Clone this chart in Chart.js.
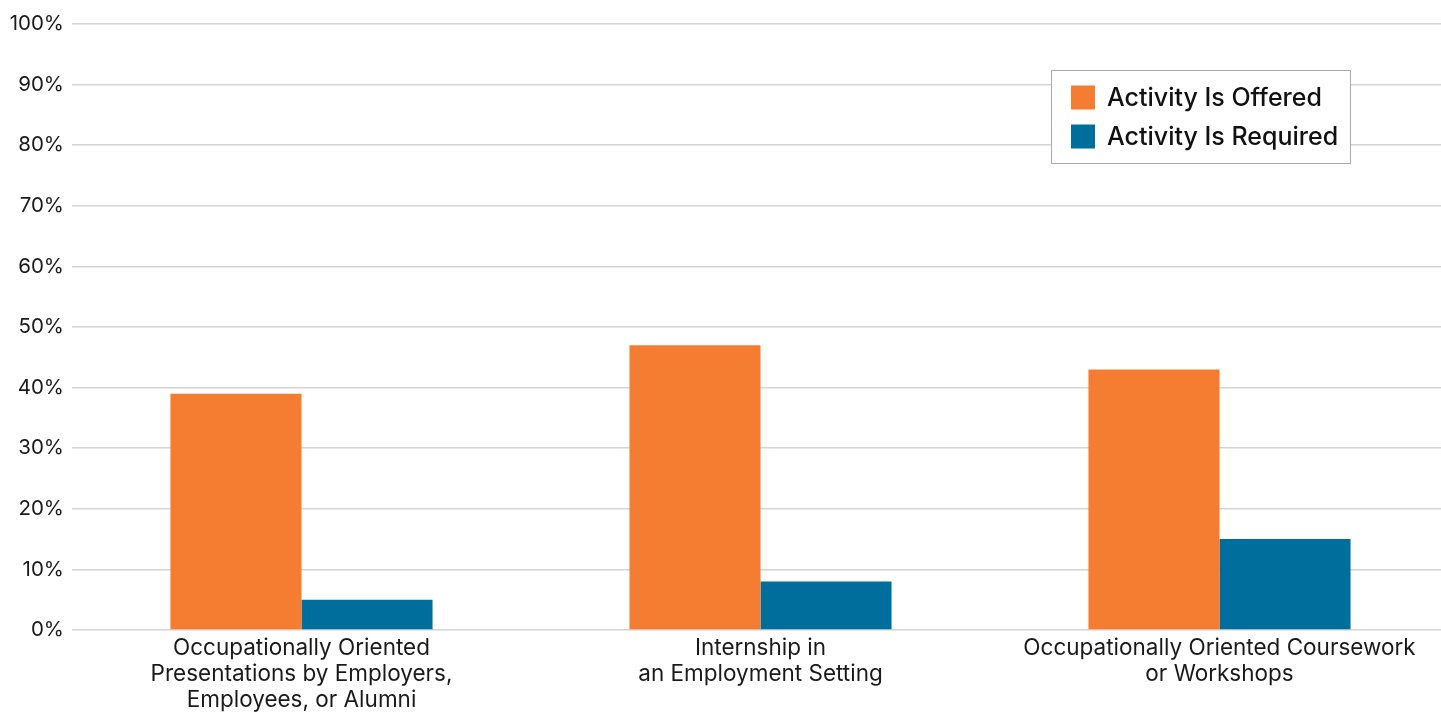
<!DOCTYPE html>
<html>
<head>
<meta charset="utf-8">
<script src="https://cdn.jsdelivr.net/npm/chart.js@4"></script>
<style>
html,body{margin:0;padding:0;background:#fff;overflow:hidden;}
#wrap{position:relative;width:1449px;height:713px;}
</style>
</head>
<body>
<div id="wrap"><canvas id="c"></canvas></div>
<script>
const categories = [
  ["Occupationally Oriented", "Presentations by Employers,", "Employees, or Alumni"],
  ["Internship in", "an Employment Setting"],
  ["Occupationally Oriented Coursework", "or Workshops"]
];
const seriesNames = ["Activity Is Offered", "Activity Is Required"];
const offered = [39, 47, 43];
const required = [5, 8, 15];
const yTicks = [0, 10, 20, 30, 40, 50, 60, 70, 80, 90, 100];
const colors = ["#F47D32", "#006E9D"];

const FONT = "Inter";

const legendPlugin = {
  id: 'boxLegend',
  afterDraw(chart) {
    const ctx = chart.ctx;
    const x = 1051.5, y = 70.5, w = 299, h = 93;
    ctx.save();
    ctx.fillStyle = '#fff';
    ctx.fillRect(x, y, w, h);
    ctx.strokeStyle = '#ababab';
    ctx.lineWidth = 1;
    ctx.strokeRect(x, y, w, h);
    ctx.font = '500 25px ' + FONT;
    ctx.textBaseline = 'middle';
    chart.data.datasets.forEach((ds, i) => {
      const cy = 97.5 + i * 39;
      ctx.fillStyle = ds.backgroundColor;
      ctx.fillRect(1071, cy - 12, 24, 24);
      ctx.fillStyle = '#111';
      ctx.fillText(ds.label, 1107, cy + 1);
    });
    ctx.restore();
  }
};

new Chart(document.getElementById('c'), {
  type: 'bar',
  data: {
    labels: categories,
    datasets: [
      { label: seriesNames[0], data: offered, backgroundColor: colors[0] },
      { label: seriesNames[1], data: required, backgroundColor: colors[1] }
    ]
  },
  options: {
    responsive: true,
    maintainAspectRatio: false,
    animation: false,
    layout: { padding: { top: 24, right: 0, left: 0, bottom: 0 } },
    datasets: { bar: { categoryPercentage: 0.571, barPercentage: 1.0 } },
    plugins: { legend: { display: false }, tooltip: { enabled: false } },
    scales: {
      x: {
        grid: { display: false, drawTicks: false },
        border: { display: false },
        ticks: {
          color: '#1a1a1a',
          font: { family: FONT, size: 22.5, lineHeight: '26px' },
          padding: 5,
          maxRotation: 0,
          autoSkip: false
        },
        afterFit(s) { s.height = 83; }
      },
      y: {
        min: 0, max: 100,
        afterBuildTicks(s) { s.ticks = yTicks.map(v => ({ value: v })); },
        grid: { color: '#d4d4d4', lineWidth: 1.5, drawTicks: false },
        border: { display: false },
        ticks: {
          color: '#1a1a1a',
          font: { family: FONT, size: 20.5 },
          padding: 8,
          callback: v => v + '%'
        },
        afterFit(s) { s.width = 72; }
      }
    }
  },
  plugins: [legendPlugin]
});
</script>
</body>
</html>
